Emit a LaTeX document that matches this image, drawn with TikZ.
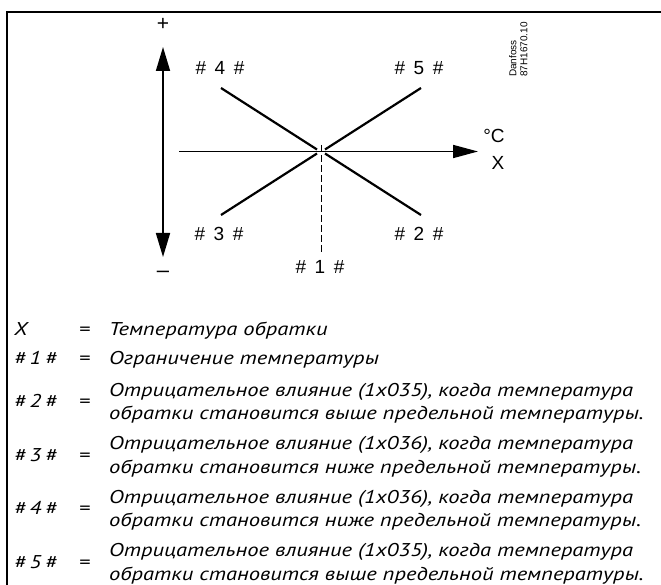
\documentclass[tikz,border=0pt]{standalone}
\usepackage{fontspec}
\setmainfont{Liberation Sans}
\newfontfamily\legfont[FakeStretch=1.22]{PT Sans}
\usetikzlibrary{arrows.meta}
\begin{document}
\begin{tikzpicture}[x=1pt,y=-1pt,
  frameline/.style={line width=2pt,line cap=rect},
  axisline/.style={line width=1.7pt},
  diagline/.style={line width=2.2pt},
  limline/.style={line width=0.9pt,dash pattern=on 7pt off 3pt},
  lab/.style={font=\fontsize{19}{20}\selectfont,inner sep=0pt,anchor=mid},
  legtxt/.style={font=\legfont\itshape\fontsize{18.5}{23.5}\selectfont,inner sep=0pt,anchor=mid west},
  legeq/.style={font=\legfont\fontsize{18.5}{23.5}\selectfont,inner sep=0pt,anchor=mid},
  legline/.style={font=\legfont\itshape\fontsize{18.5}{23.5}\selectfont,inner sep=0pt,anchor=mid west}
]
\useasboundingbox (0,0) rectangle (661,585);
\fill[white] (0,0) rectangle (661,585);
% frame
\draw[frameline] (7,586) -- (7,12) -- (662,12);

% axes
\coordinate (vt) at (163,47);
\coordinate (vb) at (163,257);
\draw[axisline,{Triangle[length=24pt,width=14pt]}-{Triangle[length=24pt,width=14pt]}] (vb) -- (vt);
\coordinate (hl) at (179,151.5);
\coordinate (hr) at (478,151.5);
\draw[axisline,-{Triangle[length=25pt,width=13pt]}] (hl) -- (hr);

% diagonals
\coordinate (d4a) at (221,88);  \coordinate (d4b) at (317,149.5);
\coordinate (d5a) at (421,88);  \coordinate (d5b) at (325,149.5);
\coordinate (d3a) at (221,215); \coordinate (d3b) at (317,153.5);
\coordinate (d2a) at (421,215); \coordinate (d2b) at (325,153.5);
\draw[diagline] (d4a) -- (d4b);
\draw[diagline] (d5a) -- (d5b);
\draw[diagline] (d3a) -- (d3b);
\draw[diagline] (d2a) -- (d2b);

% limit line
\coordinate (lt) at (321,145);
\coordinate (lb) at (321,252);
\draw[limline] (lt) -- (lb);

% labels
\newcommand{\hh}[1]{\#\hspace{0.45em}#1\hspace{0.45em}\#}
\node[lab,font=\fontsize{21}{22}\selectfont] (plus) at (163,28) {+};
\node[lab,font=\fontsize{22}{24}\selectfont] (minus) at (163,275) {–};
\node[lab] (l4) at (220,72) {\hh{4}};
\node[lab] (l5) at (419,72) {\hh{5}};
\node[lab] (l3) at (219,238) {\hh{3}};
\node[lab] (l2) at (419,238) {\hh{2}};
\node[lab] (l1) at (320,271) {\hh{1}};
\node[lab] (degc) at (494,140) {°C};
\node[lab] (xl) at (498,167) {X};
\node[font=\fontsize{10}{11}\selectfont,inner sep=0pt,rotate=90,anchor=north west,align=left] (dan) at (509,77) {Danfoss\\87H1670.10};

% legend
\newcommand{\lh}[1]{\#\hspace{0.2em}#1\hspace{0.2em}\#}
\node[legtxt] (kx) at (14,333) {X};
\node[legeq] (ex) at (85,333) {=};
\node[legline] (tx) at (109,333) {Температура обратки};

\node[legtxt] (k1) at (14,362) {\lh{1}};
\node[legeq] (e1) at (85,362) {=};
\node[legline] (t1) at (109,362) {Ограничение температуры};

\node[legtxt] (k2) at (14,405) {\lh{2}};
\node[legeq] (e2) at (85,405) {=};
\node[legline] (t2a) at (109,393.5) {Отрицательное влияние (1x035), когда температура};
\node[legline] (t2b) at (109,417) {обратки становится выше предельной температуры.};

\node[legtxt] (k3) at (14,458.5) {\lh{3}};
\node[legeq] (e3) at (85,458.5) {=};
\node[legline] (t3a) at (109,447) {Отрицательное влияние (1x036), когда температура};
\node[legline] (t3b) at (109,470.5) {обратки становится ниже предельной температуры.};

\node[legtxt] (k4) at (14,512) {\lh{4}};
\node[legeq] (e4) at (85,512) {=};
\node[legline] (t4a) at (109,500.5) {Отрицательное влияние (1x036), когда температура};
\node[legline] (t4b) at (109,524) {обратки становится ниже предельной температуры.};

\node[legtxt] (k5) at (14,565.5) {\lh{5}};
\node[legeq] (e5) at (85,565.5) {=};
\node[legline] (t5a) at (109,554) {Отрицательное влияние (1x035), когда температура};
\node[legline] (t5b) at (109,577.5) {обратки становится выше предельной температуры.};
\end{tikzpicture}
\end{document}
